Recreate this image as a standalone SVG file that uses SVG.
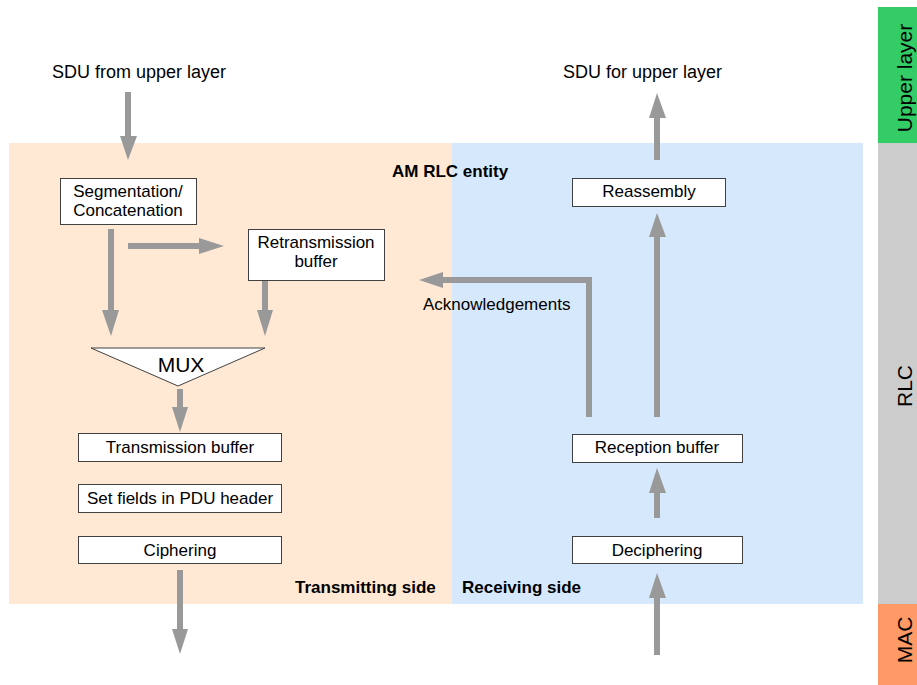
<svg xmlns="http://www.w3.org/2000/svg" width="917" height="685" viewBox="0 0 917 685">
<style>
text{font-family:"Liberation Sans",Arial,sans-serif;fill:#000}
.lbl{font-size:18px}
.box{fill:#fff;stroke:#404040;stroke-width:1}
.bt{font-size:17px;text-anchor:middle}
.bold{font-size:17px;font-weight:bold}
.ln{stroke:#999;stroke-width:6;fill:none}
.hd{fill:#999}
.side{font-size:21px;text-anchor:middle}
</style>
<g id="background">
<rect x="9" y="143" width="443" height="461" fill="#FFE9D4"/>
<rect x="452" y="143" width="411" height="461" fill="#D6E8FC"/>
</g>
<g id="layers">
<rect x="878" y="7" width="39" height="136" fill="#33CC66"/>
<rect x="878" y="143" width="39" height="461" fill="#CCCCCC"/>
<rect x="878" y="604" width="39" height="81" fill="#FF9966"/>
<text class="side" transform="translate(912,78) rotate(-90)">Upper layer</text>
<text class="side" transform="translate(912,386) rotate(-90)">RLC</text>
<text class="side" transform="translate(912,640) rotate(-90)">MAC</text>
</g>
<g id="labels">
<text class="lbl" x="52" y="78">SDU from upper layer</text>
<text class="lbl" x="563" y="78">SDU for upper layer</text>
<text class="bold" x="392" y="177">AM RLC entity</text>
<text x="423" y="310" style="font-size:17px">Acknowledgements</text>
<text class="bold" x="295" y="593">Transmitting side</text>
<text class="bold" x="462" y="593">Receiving side</text>
</g>
<g id="connectors">
<line class="ln" x1="128" y1="92" x2="128" y2="137"/><polygon class="hd" points="120,136 137,136 128,160"/>
<line class="ln" x1="111" y1="229" x2="111" y2="311"/><polygon class="hd" points="102,310 119,310 111,336"/>
<line class="ln" x1="128" y1="246" x2="200" y2="246"/><polygon class="hd" points="199,238 199,254 224,246"/>
<line class="ln" x1="265" y1="280" x2="265" y2="311"/><polygon class="hd" points="257,310 273,310 265,336"/>
<line class="ln" x1="180" y1="389" x2="180" y2="408"/><polygon class="hd" points="172,407 188,407 180,432"/>
<line class="ln" x1="180" y1="570" x2="180" y2="630"/><polygon class="hd" points="172,629 188,629 180,654"/>
<polyline class="ln" points="589,417 589,280 442,280"/><polygon class="hd" points="443,272 443,288 419,280"/>
<line class="ln" x1="657" y1="160" x2="657" y2="117"/><polygon class="hd" points="649,118 666,118 657,93"/>
<line class="ln" x1="657" y1="417" x2="657" y2="236"/><polygon class="hd" points="649,237 666,237 657,213"/>
<line class="ln" x1="657" y1="518" x2="657" y2="492"/><polygon class="hd" points="649,493 666,493 657,468"/>
<line class="ln" x1="657" y1="655" x2="657" y2="597"/><polygon class="hd" points="649,598 666,598 657,573"/>
</g>
<g id="segmentation"><rect class="box" x="60.5" y="178.5" width="136" height="46"/><text class="bt" x="128" y="197">Segmentation/</text><text class="bt" x="128" y="216">Concatenation</text></g>
<g id="retransmission"><rect class="box" x="248.5" y="229.5" width="136" height="51"/><text class="bt" x="316" y="248">Retransmission</text><text class="bt" x="316" y="267">buffer</text></g>
<g id="mux"><polygon points="91,348 265,348 178,386" fill="#fff" stroke="#404040" stroke-width="1"/><text x="181" y="372" style="font-size:21px;text-anchor:middle">MUX</text></g>
<g id="transmission"><rect class="box" x="78.5" y="433.5" width="203" height="28"/><text class="bt" x="180" y="453">Transmission buffer</text></g>
<g id="setfields"><rect class="box" x="78.5" y="484.5" width="203" height="28"/><text class="bt" x="180" y="504">Set fields in PDU header</text></g>
<g id="ciphering"><rect class="box" x="78.5" y="536.5" width="203" height="27"/><text class="bt" x="180" y="556">Ciphering</text></g>
<g id="reassembly"><rect class="box" x="572.5" y="178.5" width="153" height="28"/><text class="bt" x="649" y="197">Reassembly</text></g>
<g id="reception"><rect class="box" x="572.5" y="434.5" width="170" height="28"/><text class="bt" x="657" y="453">Reception buffer</text></g>
<g id="deciphering"><rect class="box" x="572.5" y="536.5" width="170" height="27"/><text class="bt" x="657" y="556">Deciphering</text></g>
</svg>
